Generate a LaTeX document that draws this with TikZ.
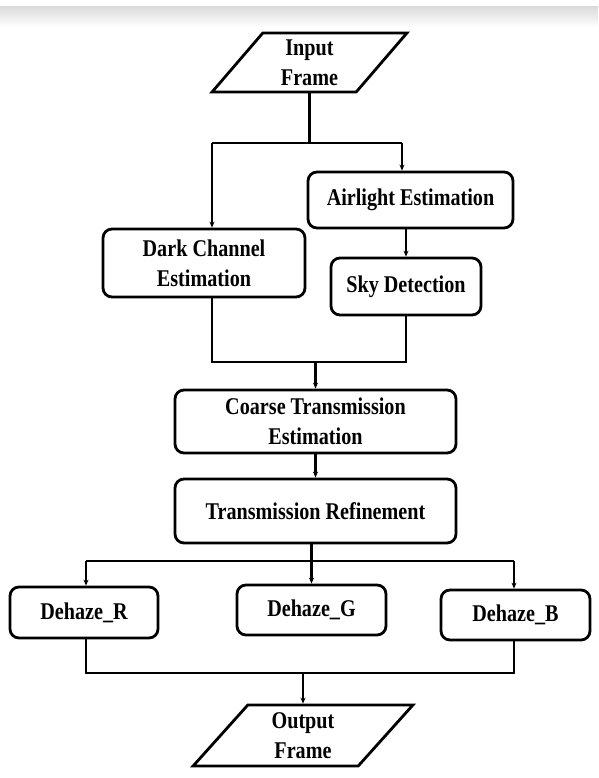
\documentclass[tikz,border=0pt]{standalone}
\usepackage{fontspec}
\setmainfont[FakeStretch=0.84]{Liberation Serif}
\usepackage{tikz}
\usetikzlibrary{positioning}
\usetikzlibrary{shapes.geometric}
\usetikzlibrary{arrows.meta}
\usetikzlibrary{calc}

\begin{document}
\begin{tikzpicture}[x=1pt,y=1pt,yscale=-1,xscale=1,
    box/.style={draw,rounded corners=9pt,line width=2.8pt,inner sep=0pt,align=center,font=\bfseries\fontsize{24}{30}\selectfont},
    io/.style={draw,trapezium,trapezium left angle=56,trapezium right angle=124,trapezium stretches=true,line width=2.8pt,inner sep=0pt,align=center,font=\bfseries\fontsize{24}{30}\selectfont},
    arr/.style={line width=2.1pt,-{Stealth[length=6pt,width=5pt]}},
    ln/.style={line width=2.1pt}]
    \useasboundingbox (0,0) rectangle (598,778);

%Shape: Band [id:top]
\shade [top color=black!14,bottom color=white] (0,7) rectangle (598,27);

%Shape: Parallelogram [id:in]
\node [io,minimum width=195,minimum height=59] (in) at (309.5,62.5) {Input\\Frame};
%Shape: Rectangle [id:air]
\node [box,minimum width=205,minimum height=56] (air) at (410.5,200) {Airlight Estimation};
%Shape: Rectangle [id:dark]
\node [box,minimum width=202,minimum height=68] (dark) at (204,263) {Dark Channel\\Estimation};
%Shape: Rectangle [id:sky]
\node [box,minimum width=150,minimum height=57] (sky) at (406,286.5) {Sky Detection};
%Shape: Rectangle [id:coarse]
\node [box,minimum width=281,minimum height=63] (coarse) at (315.5,421.5) {Coarse Transmission\\Estimation};
%Shape: Rectangle [id:refine]
\node [box,minimum width=281,minimum height=64] (refine) at (315.5,511) {Transmission Refinement};
%Shape: Rectangle [id:dr]
\node [box,minimum width=148,minimum height=51] (dr) at (84,612.5) {Dehaze\_R};
%Shape: Rectangle [id:dg]
\node [box,minimum width=149,minimum height=50] (dg) at (311.5,610) {Dehaze\_G};
%Shape: Rectangle [id:db]
\node [box,minimum width=149,minimum height=50] (db) at (515.5,615) {Dehaze\_B};
%Shape: Parallelogram [id:out]
\node [io,minimum width=220,minimum height=61] (out) at (303,735.5) {Output\\Frame};

% Junctions
\coordinate (jl) at (212,143);
\coordinate (jr) at (402,143);
\coordinate (ml) at (212,362);
\coordinate (mr) at (406,362);
\coordinate (sl) at (86,561);
\coordinate (sr) at (514,561);
\coordinate (bl) at (86,673);
\coordinate (br) at (514,673);

%Straight Lines [id:split1]
\draw [ln] (in.south) -- (in.south |- jl);
\draw [ln] (jl) -- (jr);
\draw [arr] (jl) -- (jl |- dark.north);
\draw [arr] (jr) -- (jr |- air.north);
\draw [arr] (air.south -| sky.north) -- (sky.north);

%Straight Lines [id:merge1]
\draw [ln] (ml |- dark.south) -- (ml) -- (mr) -- (sky.south);
\draw [arr] (ml -| coarse.north) -- (coarse.north);
\draw [arr] (coarse.south) -- (refine.north);

%Straight Lines [id:split2]
\draw [ln] (refine.south -| dg.north) -- (sl -| dg.north);
\draw [ln] (sl) -- (sr);
\draw [arr] (sl) -- (sl |- dr.north);
\draw [arr] (sl -| dg.north) -- (dg.north);
\draw [arr] (sr) -- (sr |- db.north);

%Straight Lines [id:merge2]
\draw [ln] (bl |- dr.south) -- (bl) -- (br) -- (br |- db.south);
\draw [arr] (bl -| out.north) -- (out.north);

\end{tikzpicture}
\end{document}
